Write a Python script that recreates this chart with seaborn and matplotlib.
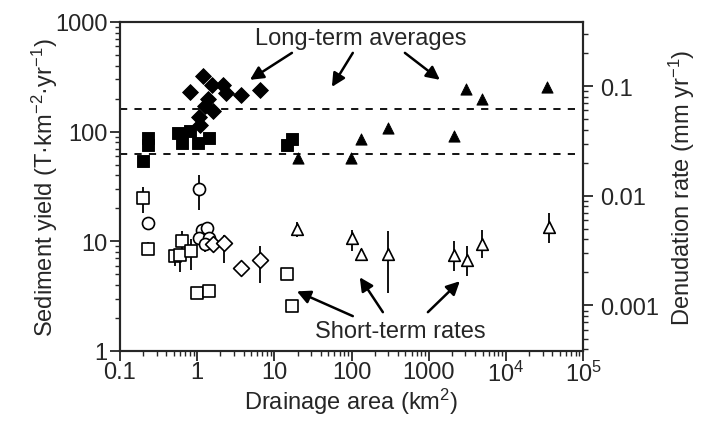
import numpy as np
import matplotlib
matplotlib.use("Agg")
import matplotlib.pyplot as plt
import seaborn as sns

# ---------------- data ----------------
# Long-term averages (filled symbols)
lt_dia_x = [0.81, 1.07, 1.09, 1.18, 1.26, 1.39, 1.54, 1.62, 2.17, 2.36, 3.69, 6.5]
lt_dia_y = [230, 136, 116, 325, 170, 199, 264, 153, 264, 225, 214, 241]

lt_sq_x = [0.20, 0.23, 0.23, 0.57, 0.63, 0.81, 1.03, 1.44, 14.4, 16.7]
lt_sq_y = [54, 88, 76, 97, 79, 101, 79, 88, 76, 85]

lt_tri_x = [20.3, 98, 131, 293, 2140, 3030, 4940, 34600]
lt_tri_y = [57, 58, 85, 108, 91, 246, 200, 258]

# Short-term rates (open symbols) with error ranges
st_sq_x = [0.20, 0.23, 0.52, 0.60, 0.63, 0.83, 1.00, 1.42, 14.4, 16.7]
st_sq_y = [24.6, 8.6, 7.3, 7.5, 10.1, 8.2, 3.37, 3.5, 5.0, 2.58]
st_sq_lo = [18.3, 7.6, 6.0, 5.2, 6.6, 5.5, 3.0, 3.2, 5.0, 2.4]
st_sq_hi = [31.6, 9.8, 8.5, 8.4, 12.4, 10.5, 3.8, 3.9, 5.0, 2.7]

st_ci_x = [0.228, 1.07, 1.14, 1.35, 1.07, 1.44, 1.26]
st_ci_y = [14.6, 29.7, 12.6, 13.3, 10.8, 10.8, 9.4]
st_ci_lo = [13.0, 19.2, 11.5, 12.2, 9.6, 9.2, 8.0]
st_ci_hi = [16.5, 40.6, 14.0, 15.0, 12.0, 12.0, 10.6]

st_dia_x = [1.62, 2.22, 3.66, 6.5]
st_dia_y = [9.4, 9.6, 5.7, 6.8]
st_dia_lo = [8.0, 6.3, 5.0, 4.2]
st_dia_hi = [10.6, 11.5, 6.5, 9.0]

st_tri_x = [19.4, 100, 132, 299, 2140, 3100, 4940, 36400]
st_tri_y = [12.9, 10.8, 7.6, 7.6, 7.5, 6.7, 9.5, 13.5]
st_tri_lo = [11.0, 8.1, 6.7, 3.4, 5.4, 4.8, 7.1, 9.7]
st_tri_hi = [15.0, 12.8, 8.6, 12.4, 10.1, 9.0, 12.8, 18.3]

ref_lines = [160, 63]
x_ticks = [0.1, 1, 10, 100, 1000, 1e4, 1e5]
x_ticklabels = ["0.1", "1", "10", "100", "1000", "$10^4$", "$10^5$"]
y_ticks = [1, 10, 100, 1000]
y_ticklabels = ["1", "10", "100", "1000"]
r_ticks = [0.001, 0.01, 0.1]
r_ticklabels = ["0.001", "0.01", "0.1"]
density = 2600.0  # T per km2 per yr  <->  mm/yr

# ---------------- style ----------------
sns.set_style("ticks")
plt.rcParams["font.family"] = ["Liberation Sans", "DejaVu Sans"]
plt.rcParams["mathtext.fontset"] = "custom"
plt.rcParams["mathtext.rm"] = "Liberation Sans"
plt.rcParams["mathtext.it"] = "Liberation Sans"
plt.rcParams["mathtext.default"] = "regular"
FS = 17

fig = plt.figure(figsize=(7.07, 4.31), dpi=100)
ax = fig.add_axes([120 / 707, 1 - 352 / 431, (583 - 120) / 707, (352 - 23) / 431])
ax.set_xscale("log")
ax.set_yscale("log")
ax.set_xlim(0.1, 1e5)
ax.set_ylim(1, 1000)

# reference dashed lines
for v in ref_lines:
    ax.axhline(v, color="black", lw=1.3, ls=(0, (4, 4)), zorder=1)

# error bars
for xs, lo, hi in [(st_sq_x, st_sq_lo, st_sq_hi), (st_ci_x, st_ci_lo, st_ci_hi),
                   (st_dia_x, st_dia_lo, st_dia_hi), (st_tri_x, st_tri_lo, st_tri_hi)]:
    ax.vlines(xs, lo, hi, color="black", lw=1.3, zorder=2)

# long-term filled symbols
sns.scatterplot(x=lt_dia_x, y=lt_dia_y, marker="D", color="black", s=65, edgecolor="black", ax=ax, zorder=3)
sns.scatterplot(x=lt_sq_x, y=lt_sq_y, marker="s", color="black", s=65, edgecolor="black", ax=ax, zorder=3)
sns.scatterplot(x=lt_tri_x, y=lt_tri_y, marker="^", color="black", s=65, edgecolor="black", ax=ax, zorder=3)

# short-term open symbols
kw = dict(color="white", edgecolor="black", linewidth=1.2, ax=ax, zorder=4)
sns.scatterplot(x=st_sq_x, y=st_sq_y, marker="s", s=70, **kw)
sns.scatterplot(x=st_ci_x, y=st_ci_y, marker="o", s=75, **kw)
sns.scatterplot(x=st_dia_x, y=st_dia_y, marker="D", s=65, **kw)
sns.scatterplot(x=st_tri_x, y=st_tri_y, marker="^", s=70, **kw)

ax.set_xticks(x_ticks)
ax.set_xticklabels(x_ticklabels)
ax.set_yticks(y_ticks)
ax.set_yticklabels(y_ticklabels)
ax.tick_params(axis="both", which="major", direction="out", length=7, width=1.3,
               labelsize=FS, right=False, top=False, pad=2)
ax.tick_params(axis="x", which="major", pad=0)
ax.tick_params(axis="both", which="minor", direction="out", length=3.5, width=1)
for s in ax.spines.values():
    s.set_linewidth(1.5)
    s.set_visible(True)

ax.set_xlabel("Drainage area (km$^2$)", fontsize=FS, labelpad=0)
ax.set_ylabel("Sediment yield (T·km$^{-2}$·yr$^{-1}$)", fontsize=FS)
ax.yaxis.set_label_coords(-0.13, 0.5)

# right axis: denudation rate
ax2 = ax.twinx()
ax2.set_yscale("log")
ax2.set_ylim(1 / density, 1000 / density)
ax2.set_yticks(r_ticks)
ax2.set_yticklabels(r_ticklabels)
ax2.tick_params(axis="y", which="major", direction="out", length=7, width=1.3, labelsize=FS, pad=5)
ax2.tick_params(axis="y", which="minor", direction="out", length=3.5, width=1)
ax2.set_ylabel("Denudation rate (mm yr$^{-1}$)", fontsize=FS, labelpad=6)
for s in ax2.spines.values():
    s.set_linewidth(1.5)

# annotations
arrow = dict(arrowstyle="-|>", color="black", lw=1.8, mutation_scale=20, shrinkA=0, shrinkB=0)
ax.text(132, 716, "Long-term averages", ha="center", va="center", fontsize=FS)
for tail, head in [((16.9, 523), (4.83, 297)), ((104, 523), (55.7, 256)), ((492, 523), (1397, 297))]:
    ax.annotate("", xy=head, xytext=tail, arrowprops=arrow)
ax.text(424, 1.52, "Short-term rates", ha="center", va="center", fontsize=FS)
for tail, head in [((104, 2.08), (19.6, 3.5)), ((255, 2.26), (128, 4.7)), ((977, 2.26), (2535, 4.33))]:
    ax.annotate("", xy=head, xytext=tail, arrowprops=arrow)

fig.savefig("out.png", dpi=100)
